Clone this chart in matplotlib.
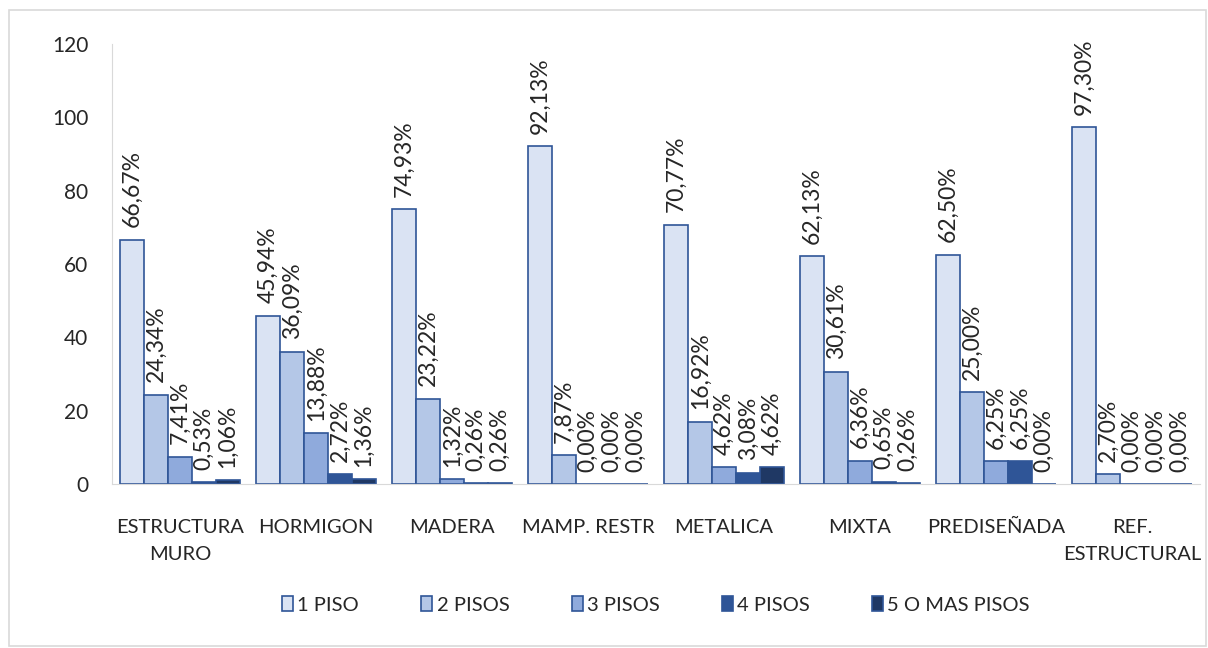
import numpy as np
import matplotlib.pyplot as plt
from matplotlib.patches import Rectangle

categories = ['ESTRUCTURA\nMURO', 'HORMIGON', 'MADERA', 'MAMP. RESTR', 'METALICA',
              'MIXTA', 'PREDISEÑADA', 'REF.\nESTRUCTURAL']
series = ['1 PISO', '2 PISOS', '3 PISOS', '4 PISOS', '5 O MAS PISOS']
piso1 = [66.67, 45.94, 74.93, 92.13, 70.77, 62.13, 62.50, 97.30]
piso2 = [24.34, 36.09, 23.22, 7.87, 16.92, 30.61, 25.00, 2.70]
piso3 = [7.41, 13.88, 1.32, 0.00, 4.62, 6.36, 6.25, 0.00]
piso4 = [0.53, 2.72, 0.26, 0.00, 3.08, 0.65, 6.25, 0.00]
piso5 = [1.06, 1.36, 0.26, 0.00, 4.62, 0.26, 0.00, 0.00]

colors = ['#dae3f3', '#b4c7e7', '#8faadc', '#2f5597', '#1f3864']
edge = '#2f5597'
txt = '#262626'

plt.rcParams['font.family'] = ['Lato', 'DejaVu Sans']

fig = plt.figure(figsize=(12.08, 6.48), dpi=100)
fig.patches.append(Rectangle((9 / 1208, 2 / 648), 1197 / 1208, 636 / 648, transform=fig.transFigure,
                             fill=False, edgecolor='#d9d9d9', linewidth=1.2))
ax = fig.add_axes([112 / 1208, 1 - 484 / 648, 1088 / 1208, 440 / 648])

x = np.arange(len(categories))
w = 0.176
data = [piso1, piso2, piso3, piso4, piso5]
for i, vals in enumerate(data):
    pos = x + (i - 2) * w
    ax.bar(pos, vals, w, color=colors[i], edgecolor=edge, linewidth=1.2, label=series[i])
    for p, v in zip(pos, vals):
        ax.annotate(f'{v:.2f}%'.replace('.', ','), (p, v), xytext=(0, 9),
                    textcoords='offset points', rotation=90,
                    ha='center', va='bottom', fontsize=16.5, color=txt)

ax.set_xlim(-0.5, len(categories) - 0.5)
ax.set_ylim(0, 120)
ax.set_yticks(range(0, 121, 20))
ax.set_xticks(x)
ax.set_xticklabels(categories, fontsize=14.5, color=txt, linespacing=1.75)
ax.tick_params(axis='y', labelsize=15, colors=txt, length=0, pad=17)
ax.tick_params(axis='x', length=0, pad=25)
for s in ['top', 'right']:
    ax.spines[s].set_visible(False)
ax.spines['left'].set_color('#d9d9d9')
ax.spines['bottom'].set_color('#d9d9d9')

ax.legend(loc='center', bbox_to_anchor=(0.5, -0.275), ncol=5, frameon=False,
          fontsize=14.5, handlelength=0.55, handleheight=0.7, columnspacing=3.1,
          handletextpad=0.2, labelcolor=txt)

fig.savefig('out.png', dpi=100)
